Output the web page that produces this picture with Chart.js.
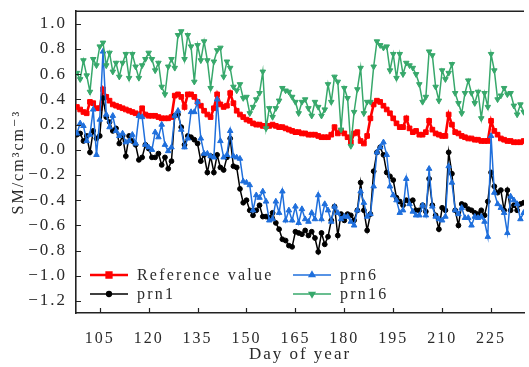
<!DOCTYPE html>
<html>
<head>
<meta charset="utf-8">
<script src="https://cdn.jsdelivr.net/npm/chart.js@4.4.1/dist/chart.umd.min.js"></script>
<style>
  html, body { margin: 0; padding: 0; background: #fff; }
  #chart { display: block; }
</style>
</head>
<body>
<canvas id="chart" width="529" height="367"></canvas>
<script>
const firstDay = 98

// one value per day, day 98 .. 235
const refValue = [
  0.34,0.32,0.30,0.29,0.38,0.37,0.33,0.33,0.48,0.42,
  0.39,0.36,0.35,0.34,0.33,0.32,0.31,0.30,0.29,0.28,
  0.33,0.28,0.27,0.27,0.27,0.26,0.25,0.25,0.25,0.26,
  0.43,0.44,0.42,0.34,0.44,0.44,0.42,0.38,0.35,0.31,
  0.28,0.26,0.33,0.44,0.36,0.34,0.35,0.45,0.37,0.31,
  0.28,0.26,0.24,0.23,0.21,0.20,0.20,0.19,0.19,0.19,
  0.20,0.19,0.18,0.18,0.17,0.16,0.15,0.14,0.14,0.13,
  0.13,0.12,0.12,0.12,0.11,0.10,0.10,0.10,0.12,0.18,
  0.13,0.15,0.13,0.10,0.06,0.13,0.14,0.07,0.05,0.11,
  0.25,0.36,0.39,0.38,0.35,0.32,0.29,0.25,0.21,0.18,
  0.18,0.25,0.17,0.14,0.15,0.12,0.12,0.14,0.23,0.16,
  0.13,0.12,0.11,0.11,0.28,0.20,0.14,0.13,0.11,0.10,
  0.09,0.09,0.08,0.08,0.07,0.07,0.07,0.23,0.15,0.12,
  0.09,0.08,0.07,0.07,0.06,0.06,0.06,0.07
]

const prn1 = [
  0.12,0.13,0.07,0.11,-0.02,0.15,0.09,0.11,0.41,0.26,
  0.22,0.15,0.17,0.05,0.11,-0.05,0.11,0.07,0.04,-0.08,
  -0.06,0.04,0.01,-0.06,-0.06,-0.03,-0.12,-0.06,-0.15,-0.09,
  0.27,0.28,0.18,0.04,0.11,0.10,0.08,0.05,-0.09,-0.04,
  -0.18,-0.05,-0.18,-0.04,-0.14,-0.16,-0.06,0.09,-0.13,-0.14,
  -0.31,-0.42,-0.40,-0.48,-0.52,-0.48,-0.44,-0.53,-0.53,-0.54,
  -0.50,-0.58,-0.63,-0.71,-0.72,-0.76,-0.77,-0.65,-0.66,-0.67,
  -0.64,-0.68,-0.65,-0.70,-0.81,-0.66,-0.75,-0.69,-0.56,-0.45,
  -0.68,-0.51,-0.56,-0.51,-0.52,-0.56,-0.48,-0.26,-0.48,-0.64,
  -0.51,-0.17,-0.02,0.02,-0.04,-0.18,-0.21,-0.24,-0.38,-0.41,
  -0.44,-0.40,-0.41,-0.40,-0.48,-0.48,-0.44,-0.49,-0.23,-0.44,
  -0.52,-0.63,-0.46,-0.48,-0.02,-0.19,-0.48,-0.60,-0.43,-0.44,
  -0.47,-0.48,-0.50,-0.51,-0.48,-0.52,-0.41,-0.18,-0.29,-0.34,
  -0.32,-0.48,-0.32,-0.48,-0.44,-0.48,-0.43,-0.42
]

const prn6 = [
  0.13,0.21,0.19,0.07,0.12,0.32,-0.04,0.24,0.78,0.28,
  0.18,0.27,0.15,0.11,0.13,0.06,0.07,0.12,0.05,0.27,
  0.26,0.04,0.02,0.00,0.14,0.10,0.20,0.04,-0.01,0.02,
  0.27,0.31,0.16,0.02,0.09,0.30,0.30,0.38,0.09,-0.03,
  -0.03,-0.05,-0.06,0.40,0.07,-0.06,-0.04,0.15,-0.05,-0.06,
  -0.07,-0.25,-0.26,-0.28,-0.48,-0.36,-0.38,-0.33,-0.41,-0.56,
  -0.55,-0.41,-0.50,-0.33,-0.56,-0.48,-0.56,-0.45,-0.58,-0.47,
  -0.55,-0.57,-0.50,-0.55,-0.36,-0.55,-0.43,-0.48,-0.57,-0.45,
  -0.50,-0.55,-0.53,-0.53,-0.57,-0.60,-0.48,-0.33,-0.42,-0.53,
  -0.51,-0.29,-0.02,0.02,0.06,-0.04,-0.29,-0.36,-0.40,-0.50,
  -0.48,-0.23,-0.43,-0.49,-0.52,-0.52,-0.44,-0.52,-0.15,-0.45,
  -0.53,-0.55,-0.56,-0.53,-0.13,-0.26,-0.48,-0.51,-0.46,-0.54,
  -0.54,-0.60,-0.53,-0.54,-0.53,-0.57,-0.69,0.11,-0.34,-0.43,
  -0.46,-0.50,-0.66,-0.37,-0.40,-0.43,-0.55,-0.50
]

const prn16 = [
  0.61,0.56,0.71,0.59,0.46,0.72,0.67,0.82,0.85,0.67,
  0.77,0.62,0.69,0.58,0.69,0.76,0.57,0.76,0.66,0.57,
  0.67,0.72,0.77,0.72,0.63,0.69,0.50,0.44,0.66,0.72,
  0.65,0.91,0.94,0.72,0.91,0.82,0.54,0.83,0.71,0.86,
  0.71,0.49,0.70,0.79,0.81,0.58,0.70,0.65,0.50,0.47,
  0.52,0.41,0.42,0.29,0.34,0.40,0.45,0.62,0.17,0.33,
  0.26,0.33,0.39,0.49,0.47,0.46,0.42,0.38,0.29,0.38,
  0.40,0.33,0.27,0.38,0.34,0.27,0.32,0.52,0.38,0.58,
  0.54,0.16,0.49,0.41,0.03,0.30,0.48,0.65,0.29,0.38,
  0.38,0.66,0.86,0.83,0.81,0.82,0.63,0.76,0.57,0.76,
  0.60,0.69,0.67,0.65,0.60,0.52,0.38,0.42,0.78,0.75,
  0.50,0.39,0.63,0.56,0.61,0.68,0.45,0.37,0.29,0.45,
  0.55,0.45,0.37,0.46,0.25,0.45,0.34,0.76,0.63,0.40,
  0.43,0.49,0.44,0.45,0.35,0.28,0.36,0.30
]

const days = refValue.map((v, i) => firstDay + i)
const xTicks = [105, 120, 135, 150, 165, 180, 195, 210, 225]
const yTicks = [-1.2, -1.0, -0.8, -0.6, -0.4, -0.2, 0.0, 0.2, 0.4, 0.6, 0.8, 1.0]

const serif = "'Liberation Serif', 'DejaVu Serif', serif"
const textColor = '#2a2a2a'

const series = [
  { label: 'Reference value', data: refValue, color: '#ff0000', style: 'rect', radius: 3.3, rotation: 0, width: 2.6, order: 3 },
  { label: 'prn1', data: prn1, color: '#000000', style: 'circle', radius: 2.4, rotation: 0, width: 1.5, order: 2 },
  { label: 'prn6', data: prn6, color: '#1f6fdc', style: 'triangle', radius: 3.2, rotation: 0, width: 1.5, order: 1 },
  { label: 'prn16', data: prn16, color: '#37a86b', style: 'triangle', radius: 3.2, rotation: 180, width: 1.5, order: 0 }
]

// the original text is wide and evenly spaced, so open up the letters a bit
const wideText = {
  id: 'wideText',
  beforeDraw(chart) {
    chart.ctx.letterSpacing = '2px'
  }
}

// inward tick marks, top frame line and the legend inside the plot
const frameAndLegend = {
  id: 'frameAndLegend',
  afterDraw(chart) {
    const ctx = chart.ctx
    const area = chart.chartArea
    const xs = chart.scales.x
    const ys = chart.scales.y
    ctx.save()
    ctx.strokeStyle = '#222'
    ctx.lineWidth = 1.2
    ctx.beginPath()
    xTicks.forEach(t => {
      const px = Math.round(xs.getPixelForValue(t)) + 0.5
      ctx.moveTo(px, area.bottom)
      ctx.lineTo(px, area.bottom - 5)
    })
    yTicks.forEach(t => {
      const py = Math.round(ys.getPixelForValue(t)) + 0.5
      ctx.moveTo(area.left, py)
      ctx.lineTo(area.left + 5, py)
    })
    ctx.stroke()
    ctx.lineWidth = 1.6
    ctx.beginPath()
    ctx.moveTo(area.left, area.top)
    ctx.lineTo(area.right, area.top)
    ctx.stroke()

    // legend, two columns
    const spots = [[90, 275], [90, 294], [293, 275], [293, 294]]
    ctx.font = '16px ' + serif
    ctx.letterSpacing = '2.2px'
    ctx.textBaseline = 'middle'
    series.forEach((s, i) => {
      const [lx, ly] = spots[i]
      ctx.strokeStyle = s.color
      ctx.lineWidth = s.width
      ctx.beginPath()
      ctx.moveTo(lx, ly)
      ctx.lineTo(lx + 38, ly)
      ctx.stroke()
      ctx.fillStyle = s.color
      Chart.helpers.drawPoint(ctx, { pointStyle: s.style, radius: s.radius, rotation: s.rotation, borderWidth: 1 }, lx + 19, ly)
      ctx.fillStyle = textColor
      ctx.fillText(s.label, lx + 47, ly + 1)
    })
    ctx.restore()
  }
}

const chart = new Chart(document.getElementById('chart'), {
  type: 'line',
  data: {
    labels: days,
    datasets: series.map(s => ({
      label: s.label,
      data: s.data,
      borderColor: s.color,
      backgroundColor: s.color,
      borderWidth: s.width,
      pointStyle: s.style,
      pointRadius: s.radius,
      pointRotation: s.rotation,
      pointBorderWidth: 1,
      tension: 0,
      order: s.order
    }))
  },
  options: {
    responsive: false,
    animation: false,
    layout: { padding: { top: 9, right: 0, bottom: 0, left: 0 } },
    plugins: {
      legend: { display: false },
      tooltip: { enabled: false }
    },
    scales: {
      x: {
        type: 'linear',
        min: 97.72,
        max: 235.1,
        afterFit: scale => { scale.height = 54 },
        afterBuildTicks: scale => { scale.ticks = xTicks.map(v => ({ value: v })) },
        grid: { display: false },
        border: { display: true, color: '#222', width: 1.6 },
        ticks: { padding: 8, color: textColor, font: { family: serif, size: 16 }, maxRotation: 0, autoSkip: false },
        title: { display: true, text: 'Day of year', color: textColor, font: { family: serif, size: 17 }, padding: { top: 0, bottom: 2 } }
      },
      y: {
        min: -1.295,
        max: 1.1,
        afterFit: scale => { scale.width = 76 },
        afterBuildTicks: scale => { scale.ticks = yTicks.map(v => ({ value: v })) },
        grid: { display: false },
        border: { display: true, color: '#222', width: 1.6 },
        ticks: {
          padding: 1,
          color: textColor,
          font: { family: serif, size: 17 },
          autoSkip: false,
          callback: v => (v < 0 ? '\u2212' : '') + Math.abs(v).toFixed(1)
        },
        title: { display: true, text: 'SM/cm\u00b3cm\u207b\u00b3', color: textColor, font: { family: serif, size: 16 }, padding: { top: 9, bottom: 0 } }
      }
    }
  },
  plugins: [wideText, frameAndLegend]
})
</script>
</body>
</html>
